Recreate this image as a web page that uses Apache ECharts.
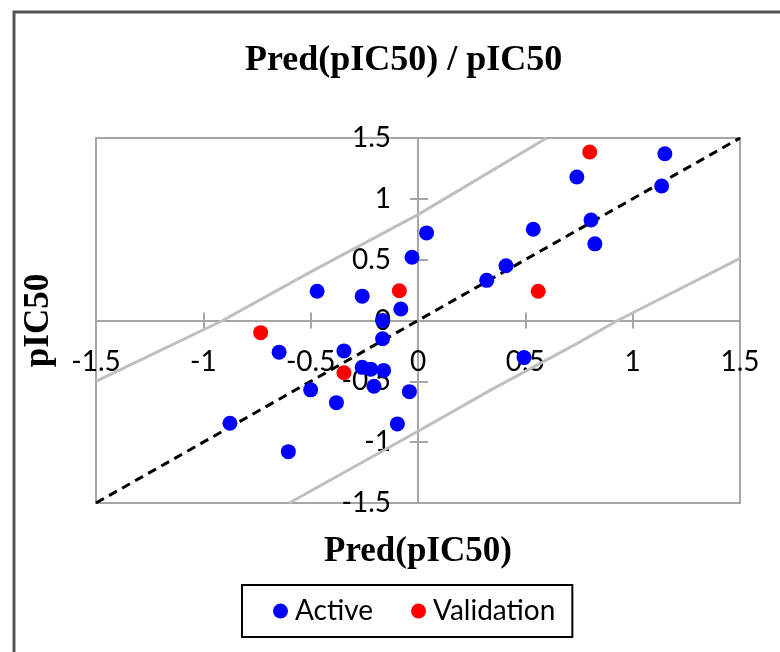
<!DOCTYPE html>
<html>
<head>
<meta charset="utf-8">
<script src="https://cdn.jsdelivr.net/npm/echarts@6/dist/echarts.min.js"></script>
<style>html,body{margin:0;padding:0;background:#fff}#c{width:780px;height:652px}</style>
</head>
<body>
<div id="c"></div>
<script>
// Data
const activePoints = [
  [-0.47,0.24],[-0.26,0.20],[-0.08,0.095],[-0.028,0.52],[0.04,0.72],
  [1.15,1.37],[0.74,1.18],[1.135,1.105],[0.806,0.826],[0.537,0.75],
  [0.824,0.63],[0.41,0.45],[0.32,0.33],[-0.647,-0.26],[-0.345,-0.25],
  [-0.165,-0.15],[-0.165,0.0],[-0.26,-0.385],[-0.22,-0.40],[-0.16,-0.41],
  [-0.205,-0.54],[-0.04,-0.585],[-0.50,-0.57],[-0.38,-0.675],[-0.096,-0.85],
  [-0.876,-0.845],[-0.604,-1.078],[0.494,-0.305]
];
const validationPoints = [
  [-0.087,0.245],[0.80,1.385],[0.56,0.24],[-0.733,-0.10],[-0.345,-0.43]
];
const identityLine = [[-1.5,-1.5],[1.5,1.5]];
const upperBound = [[-1.5,-0.50],[-0.91,0.0],[-0.5,0.40],[0,0.87],[0.6,1.5]];
const lowerBound = [[-0.6,-1.5],[0,-0.91],[0.34,-0.57],[0.74,-0.19],[0.93,0],[1.5,0.51]];
const axisMin = -1.5, axisMax = 1.5, axisStep = 0.5;
const titleText = 'Pred(pIC50) / pIC50';
const xTitle = 'Pred(pIC50)';
const yTitle = 'pIC50';
const seriesNames = ['Active','Validation'];

const sans = 'Lato';
const serif = 'Liberation Serif';
const axisGray = '#A6A6A6';

// plot box (pixels) — axes cross at the middle of the box (value 0)
const gridLeft = 96, gridRight = 40, gridTop = 138, gridBottom = 149;
const W = 780, H = 652;
const plotW = W - gridLeft - gridRight, plotH = H - gridTop - gridBottom;
const xOff = -plotH / 2;   // move x axis from bottom edge up to y = 0
const yOff = -plotW / 2;   // move y axis from left edge right to x = 0

function valAxis(pos, off, extra){
  return Object.assign({
    type:'value', min:axisMin, max:axisMax, interval:axisStep,
    position:pos, offset:off,
    splitLine:{show:false},
    axisLine:{show:true, onZero:false, lineStyle:{color:axisGray, width:2}},
    axisTick:{show:true, inside:false, length:8, lineStyle:{color:axisGray, width:2}},
  }, extra);
}

const chart = echarts.init(document.getElementById('c'), null, {renderer:'canvas'});
chart.setOption({
  animation:false,
  backgroundColor:'#fff',
  title:{
    text:titleText, left:240, top:38,
    textStyle:{fontFamily:serif, fontWeight:'bold', fontSize:36, color:'#000'}
  },
  graphic:[{
    type:'rect', shape:{x:14, y:12, width:800, height:700},
    style:{fill:null, stroke:'#555', lineWidth:3}, z:-10
  }],
  grid:{left:gridLeft, right:gridRight, top:gridTop, bottom:gridBottom, containLabel:false, outerBoundsMode:'none',
        show:true, borderColor:axisGray, borderWidth:2},
  legend:{
    data:seriesNames, left:242, top:585, orient:'horizontal',
    icon:'circle', itemWidth:15, itemHeight:15, itemGap:38,
    borderColor:'#000', borderWidth:2, padding:[12,17,12,31],
    textStyle:{fontFamily:sans, fontSize:28, color:'#000', padding:[0,0,0,2]}
  },
  xAxis:[
    valAxis('bottom', xOff, {
      name:xTitle, nameLocation:'middle', nameGap:214,
      nameTextStyle:{fontFamily:serif, fontWeight:'bold', fontSize:35, color:'#000'},
      axisLabel:{fontFamily:sans, fontSize:28, color:'#000', margin:27}
    }),
    valAxis('bottom', xOff, {axisLabel:{show:false}, axisTick:{show:true, inside:true, length:8, lineStyle:{color:axisGray, width:2}}})
  ],
  yAxis:[
    valAxis('left', yOff, {
      name:yTitle, nameLocation:'middle', nameGap:362, nameRotate:90,
      nameTextStyle:{fontFamily:serif, fontWeight:'bold', fontSize:35, color:'#000'},
      axisLabel:{fontFamily:sans, fontSize:28, color:'#000', margin:27}
    }),
    valAxis('left', yOff, {axisLabel:{show:false}, axisTick:{show:true, inside:true, length:10, lineStyle:{color:axisGray, width:2}}})
  ],
  series:[
    {type:'line', data:upperBound, symbol:'none', lineStyle:{color:'#BFBFBF', width:3}, z:1, silent:true},
    {type:'line', data:lowerBound, symbol:'none', lineStyle:{color:'#BFBFBF', width:3}, z:1, silent:true},
    {type:'line', data:identityLine, symbol:'none', lineStyle:{color:'#000', width:3, type:[9,6]}, z:2, silent:true},
    {name:seriesNames[0], type:'scatter', data:activePoints, symbolSize:15, itemStyle:{color:'#0000FF', opacity:1}, z:3},
    {name:seriesNames[1], type:'scatter', data:validationPoints, symbolSize:15, itemStyle:{color:'#FF0000', opacity:1}, z:3}
  ]
});
</script>
</body>
</html>
